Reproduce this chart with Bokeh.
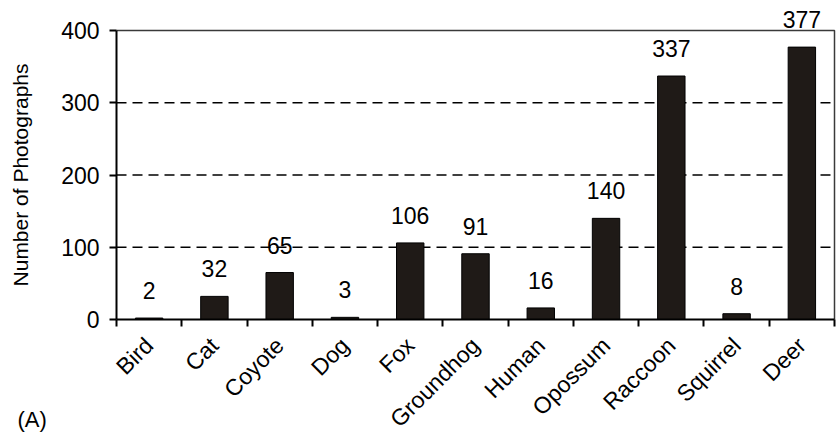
from math import pi
from bokeh.plotting import figure
from bokeh.models import ColumnDataSource, FixedTicker, LabelSet, Label, Range1d
from bokeh.core.properties import value
from bokeh.embed import file_html
from bokeh.resources import INLINE

categories = ["Bird", "Cat", "Coyote", "Dog", "Fox", "Groundhog", "Human",
              "Opossum", "Raccoon", "Squirrel", "Deer"]
counts = [2, 32, 65, 3, 106, 91, 16, 140, 337, 8, 377]
y_ticks = [0, 100, 200, 300, 400]
grid_values = [100, 200, 300]
y_label = "Number of Photographs"
panel_label = "(A)"

FONT = "Liberation Sans"
W, H = 836, 436
# pixel layout of the plot box inside the figure
PX_LEFT, PX_RIGHT, PX_TOP, PX_ZERO = 116, 834, 30, 319

n = len(categories)
centers = [i + 0.5 for i in range(n)]
boundaries = list(range(n + 1))
y_top = y_ticks[-1]

xs = (PX_RIGHT - PX_LEFT) / n
ys = (PX_ZERO - PX_TOP) / y_top
x_range = Range1d(-PX_LEFT / xs, n + (W - PX_RIGHT) / xs)
y_range = Range1d(-(H - PX_ZERO) / ys, PX_ZERO / ys)

src = ColumnDataSource(dict(x=centers, top=counts,
                            label=[str(c) for c in counts], cat=categories))
grid_src = ColumnDataSource(dict(x0=[0] * len(grid_values), x1=[n] * len(grid_values),
                                 y=grid_values))

p = figure(width=W, height=H, output_backend="svg", toolbar_location=None,
           x_range=x_range, y_range=y_range,
           min_border=0, min_border_left=0, min_border_right=0,
           min_border_top=0, min_border_bottom=0)
p.background_fill_color = "white"
p.border_fill_color = "white"
p.outline_line_color = None
p.xgrid.visible = False
p.ygrid.visible = False

# dashed horizontal gridlines
p.segment(x0="x0", x1="x1", y0="y", y1="y", source=grid_src,
          line_color="black", line_width=1.5, line_dash="10 6")

# top and right border of the plot box
p.line(x=[0, n, n], y=[y_top, y_top, 0], line_color="#3a3a3a", line_width=1.5)

p.vbar(x="x", top="top", width=0.42, source=src,
       fill_color="#1f1a17", line_color="black", line_width=1)

labels = LabelSet(x="x", y="top", text="label", source=src, y_offset=19,
                  text_align="center", text_baseline="bottom",
                  text_font=value(FONT), text_font_size=value("23px"),
                  text_color="black")
p.add_layout(labels)

# y axis
yax = p.yaxis[0]
yax.fixed_location = 0
yax.ticker = FixedTicker(ticks=y_ticks)
yax.bounds = (0, y_top)
yax.axis_label = y_label
yax.axis_label_text_font = FONT
yax.axis_label_text_font_size = "21px"
yax.axis_label_text_font_style = "normal"
yax.axis_label_text_color = "black"
yax.axis_label_standoff = 26
yax.major_label_text_font = FONT
yax.major_label_text_font_size = "23px"
yax.major_label_text_color = "black"
yax.major_label_standoff = 10
yax.axis_line_color = "black"
yax.axis_line_width = 2
yax.major_tick_line_color = "black"
yax.major_tick_line_width = 2
yax.major_tick_out = 7
yax.major_tick_in = 0
yax.minor_tick_line_color = None

# x axis: labels at category centres, tick marks at category boundaries
xax = p.xaxis[0]
xax.fixed_location = 0
xax.bounds = (0, n)
xax.ticker = FixedTicker(ticks=centers, minor_ticks=boundaries)
xax.major_label_overrides = {c: name for c, name in zip(centers, categories)}
xax.major_label_orientation = pi / 4
xax.major_label_text_font = FONT
xax.major_label_text_font_size = "23px"
xax.major_label_text_color = "black"
xax.major_label_standoff = 15
xax.axis_line_color = "black"
xax.axis_line_width = 2
xax.major_tick_line_color = None
xax.major_tick_out = 0
xax.major_tick_in = 0
xax.minor_tick_line_color = "black"
xax.minor_tick_line_width = 2
xax.minor_tick_out = 7
xax.minor_tick_in = 0

p.add_layout(Label(x=17, y=30, x_units="screen", y_units="screen",
                   text=panel_label, text_font=FONT, text_font_size="22px",
                   text_color="black", text_baseline="top"))

open("out.html", "w").write(file_html(p, INLINE))
